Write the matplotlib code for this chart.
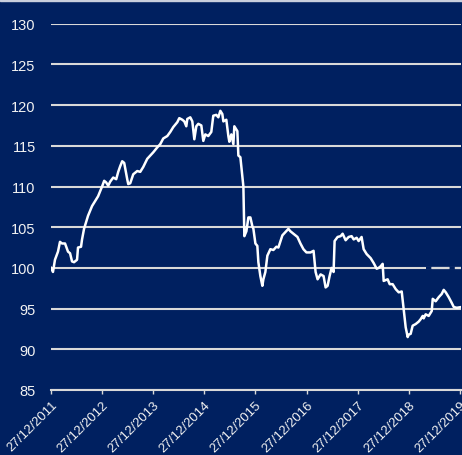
import matplotlib
matplotlib.use("Agg")
import matplotlib.pyplot as plt
import pandas as pd
from matplotlib.patches import Rectangle

NAVY = "#002060"
GRID = "#D9D9D9"
TEXT = "#F2F2F2"

# index level (decimal year, value)
years = [
    2011.986, 2012.025, 2012.064, 2012.123, 2012.162, 2012.202, 2012.261, 2012.319,
    2012.359, 2012.398, 2012.437, 2012.496, 2012.515, 2012.574, 2012.594, 2012.633,
    2012.692, 2012.711, 2012.751, 2012.790, 2012.849, 2012.908, 2012.986, 2013.025,
    2013.064, 2013.104, 2013.143, 2013.202, 2013.261, 2013.300, 2013.339, 2013.378,
    2013.417, 2013.457, 2013.476, 2013.496, 2013.535, 2013.594, 2013.672, 2013.731,
    2013.790, 2013.868, 2013.927, 2013.986, 2014.064, 2014.123, 2014.182, 2014.261,
    2014.319, 2014.378, 2014.457, 2014.496, 2014.555, 2014.594, 2014.633, 2014.653,
    2014.711, 2014.751, 2014.790, 2014.829, 2014.868, 2014.927, 2014.966, 2015.006,
    2015.064, 2015.123, 2015.162, 2015.221, 2015.261, 2015.300, 2015.339, 2015.359,
    2015.417, 2015.457, 2015.476, 2015.515, 2015.555, 2015.574, 2015.633, 2015.653,
    2015.692, 2015.751, 2015.770, 2015.810, 2015.849, 2015.888, 2015.927, 2015.947,
    2015.986, 2016.025, 2016.045, 2016.084, 2016.123, 2016.143, 2016.182, 2016.221,
    2016.280, 2016.339, 2016.398, 2016.437, 2016.515, 2016.574, 2016.633, 2016.672,
    2016.731, 2016.810, 2016.868, 2016.927, 2016.986, 2017.064, 2017.123, 2017.163,
    2017.202, 2017.261, 2017.319, 2017.359, 2017.398, 2017.437, 2017.476, 2017.515,
    2017.535, 2017.594, 2017.653, 2017.692, 2017.751, 2017.810, 2017.868, 2017.908,
    2017.966, 2018.006, 2018.064, 2018.104, 2018.163, 2018.241, 2018.300, 2018.359,
    2018.398, 2018.437, 2018.476, 2018.496, 2018.574, 2018.614, 2018.672, 2018.731,
    2018.790, 2018.849, 2018.888, 2018.927, 2018.966, 2018.986, 2019.025, 2019.064,
    2019.123, 2019.182, 2019.221, 2019.261, 2019.280, 2019.319, 2019.378, 2019.437,
    2019.457, 2019.515, 2019.574, 2019.633, 2019.672, 2019.712, 2019.770, 2019.829,
    2019.868, 2019.927, 2020.025,
]
values = [
    100.0, 99.5, 101.0, 102.0, 103.2, 103.0, 103.0, 102.0,
    101.8, 100.8, 100.7, 101.0, 102.5, 102.6, 103.5, 104.8,
    106.0, 106.4, 107.0, 107.6, 108.2, 108.8, 110.0, 110.7,
    110.5, 110.1, 110.6, 111.1, 110.9, 111.8, 112.5, 113.1,
    112.9, 111.5, 110.9, 110.3, 110.4, 111.5, 111.9, 111.8,
    112.4, 113.4, 113.8, 114.2, 114.8, 115.2, 115.9, 116.2,
    116.7, 117.3, 117.9, 118.4, 118.2, 118.0, 117.4, 118.3,
    118.5, 118.0, 115.8, 117.4, 117.7, 117.5, 115.6, 116.4,
    116.2, 116.7, 118.7, 118.8, 118.5, 119.3, 118.9, 118.0,
    118.2, 116.2, 115.5, 116.4, 115.2, 117.4, 116.8, 113.8,
    113.6, 110.0, 103.9, 104.5, 106.2, 106.2, 105.1, 104.8,
    103.0, 102.7, 100.7, 99.0, 97.8, 98.6, 99.5, 101.5,
    102.3, 102.2, 102.6, 102.5, 104.0, 104.4, 104.8, 104.5,
    104.2, 103.8, 103.0, 102.3, 101.9, 101.9, 102.1, 99.5,
    98.6, 99.2, 99.0, 97.6, 97.8, 99.0, 100.0, 99.5,
    103.3, 103.8, 103.9, 104.2, 103.4, 103.8, 103.9, 103.5,
    103.7, 103.3, 103.8, 102.3, 101.7, 101.2, 100.6, 99.9,
    100.0, 100.2, 100.5, 98.4, 98.6, 98.0, 98.0, 97.4,
    97.0, 97.1, 94.9, 92.7, 91.5, 91.8, 91.9, 92.9,
    93.1, 93.4, 93.7, 94.1, 93.8, 94.3, 94.1, 94.7,
    96.2, 95.9, 96.4, 96.8, 97.3, 97.0, 96.4, 95.7,
    95.2, 95.1, 95.2,
]
# dashed reference level at 100 over the last stretch
ref_years = [2019.33, 2020.03]
ref_values = [100, 100]

tick_dates = ["2011-12-27", "2012-12-27", "2013-12-27", "2014-12-27", "2015-12-27",
              "2016-12-27", "2017-12-27", "2018-12-27", "2019-12-27"]
y_ticks = [85, 90, 95, 100, 105, 110, 115, 120, 125, 130]


def to_dates(ys):
    out = []
    for y in ys:
        yr = int(y)
        out.append(pd.Timestamp(yr, 1, 1) + pd.Timedelta(days=(y - yr) * 365.25))
    return out


plt.rcParams["font.family"] = ["Liberation Sans", "DejaVu Sans"]

fig = plt.figure(figsize=(4.62, 4.56), dpi=100, facecolor=NAVY)
ax = fig.add_axes([51 / 462, 1 - 391 / 456, 410 / 462, (391 - 24.7) / 456])
ax.set_facecolor(NAVY)

for y in y_ticks:
    ax.axhline(y, color=GRID, linewidth=1.5, zorder=1)

ax.plot(to_dates(ref_years), ref_values, color=GRID, linewidth=1.6,
        linestyle=(8, (8, 2.5)), gapcolor=NAVY, zorder=2)
ax.plot(to_dates(years), values, color="white", linewidth=1.8, zorder=3)

ticks = pd.to_datetime(tick_dates)
ax.set_xlim(ticks[0], pd.Timestamp("2020-01-05"))
ax.set_ylim(85, 130)
ax.set_xticks(ticks)
ax.set_xticklabels([t.strftime("%d/%m/%Y") for t in ticks], rotation=45,
                   ha="right", va="top", rotation_mode="anchor", fontsize=9.5, color=TEXT)
ax.set_yticks(y_ticks)
ax.set_yticklabels([str(v) for v in y_ticks], fontsize=10.5, color=TEXT)
ax.tick_params(axis="y", length=0, pad=11)
ax.tick_params(axis="x", length=3, width=1, color=GRID, pad=3)

for side in ("top", "right", "left"):
    ax.spines[side].set_visible(False)
ax.spines["bottom"].set_color(GRID)
ax.spines["bottom"].set_linewidth(1.5)

# thin light strip along the top edge of the picture
fig.patches.append(Rectangle((0, 1 - 2 / 456), 1, 2 / 456, transform=fig.transFigure,
                             color="#C9CFDD", zorder=0))

fig.savefig("out.png", dpi=100, facecolor=NAVY)
